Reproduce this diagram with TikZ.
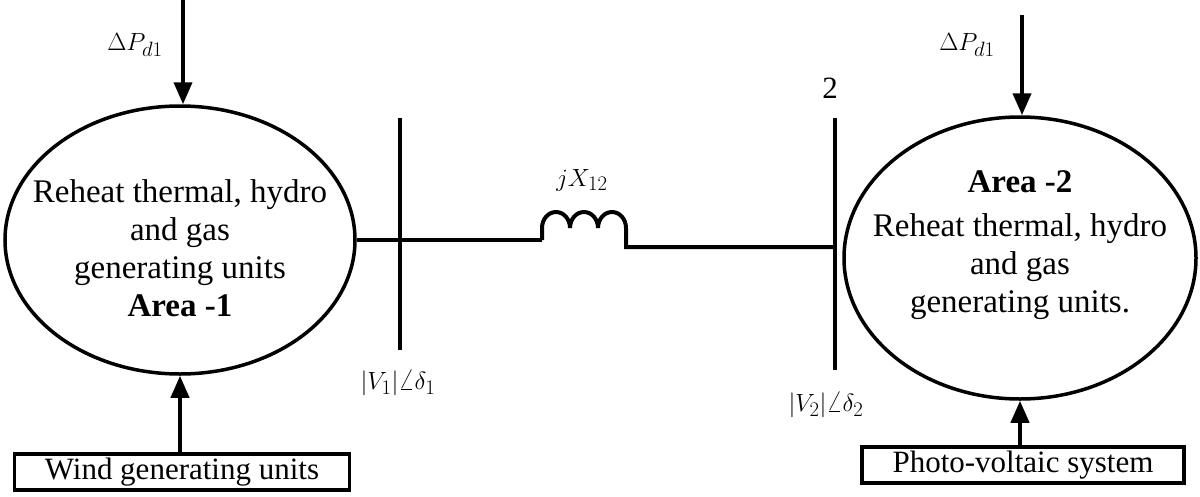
\documentclass[tikz,border=0pt]{standalone}
\usepackage{fontspec}
\setmainfont{Liberation Serif}
\usetikzlibrary{arrows.meta,shapes.geometric}
\begin{document}
\begin{tikzpicture}[x=1pt,y=-1pt,line width=4pt,
  txt/.style={font=\fontsize{33}{38}\selectfont,align=center},
  lbl/.style={font=\fontsize{31}{36}\selectfont},
  arr/.style={-{Triangle[length=22pt,width=18pt]}},
  boxs/.style={draw,line width=3.5pt,minimum height=36pt,inner sep=4pt,font=\fontsize{31}{36}\selectfont}]
\useasboundingbox (0,0) rectangle (1200,496);
\node[draw,ellipse,inner sep=0pt,minimum width=350pt,minimum height=268pt,line width=3.5pt] (e1) at (180,240) {};
\node[draw,ellipse,inner sep=0pt,minimum width=352pt,minimum height=282pt,line width=3.5pt] (e2) at (1020,258) {};
\node[txt] at (180,248) {Reheat thermal, hydro\\and gas\\generating units\\\textbf{Area -1}};
\node[txt] at (1020,245) {\textbf{Area -2}\\[6pt]Reheat thermal, hydro\\and gas\\generating units.};
\coordinate (t1) at (183,0);
\draw[arr] (t1) -- (e1.north -| t1);
\coordinate (t2) at (1022,15);
\draw[arr] (t2) -- (e2.north -| t2);
\node[lbl] at (135,45) {$\Delta P_{d1}$};
\node[lbl] at (967,45) {$\Delta P_{d1}$};
\node[boxs,minimum width=335pt] (b1) at (182,472) {Wind generating units};
\node[boxs,minimum width=322pt] (b2) at (1023,465) {Photo-voltaic system};
\draw[arr] (b1.north -| e1.south) -- (e1.south);
\draw[arr] (b2.north -| e2.south) -- (e2.south);
\coordinate (bus1t) at (400,118); \coordinate (bus1b) at (400,350);
\draw (bus1t) -- (bus1b);
\coordinate (bus2t) at (835,118); \coordinate (bus2b) at (835,370);
\draw (bus2t) -- (bus2b);
\coordinate (l1) at (542,240);
\draw (e1.east) -- (l1);
\draw (l1) -- (542,228) arc[start angle=180,end angle=360,x radius=14,y radius=16]
  arc[start angle=180,end angle=360,x radius=14,y radius=16]
  arc[start angle=180,end angle=360,x radius=14,y radius=16] -- (626,247) -- (835,247);
\node[lbl] at (582,180) {$jX_{12}$};
\node[lbl] at (830,88) {2};
\node[lbl] at (398,383) {$|V_1|\angle\delta_1$};
\node[lbl] at (826,405) {$|V_2|\angle\delta_2$};
\end{tikzpicture}
\end{document}
